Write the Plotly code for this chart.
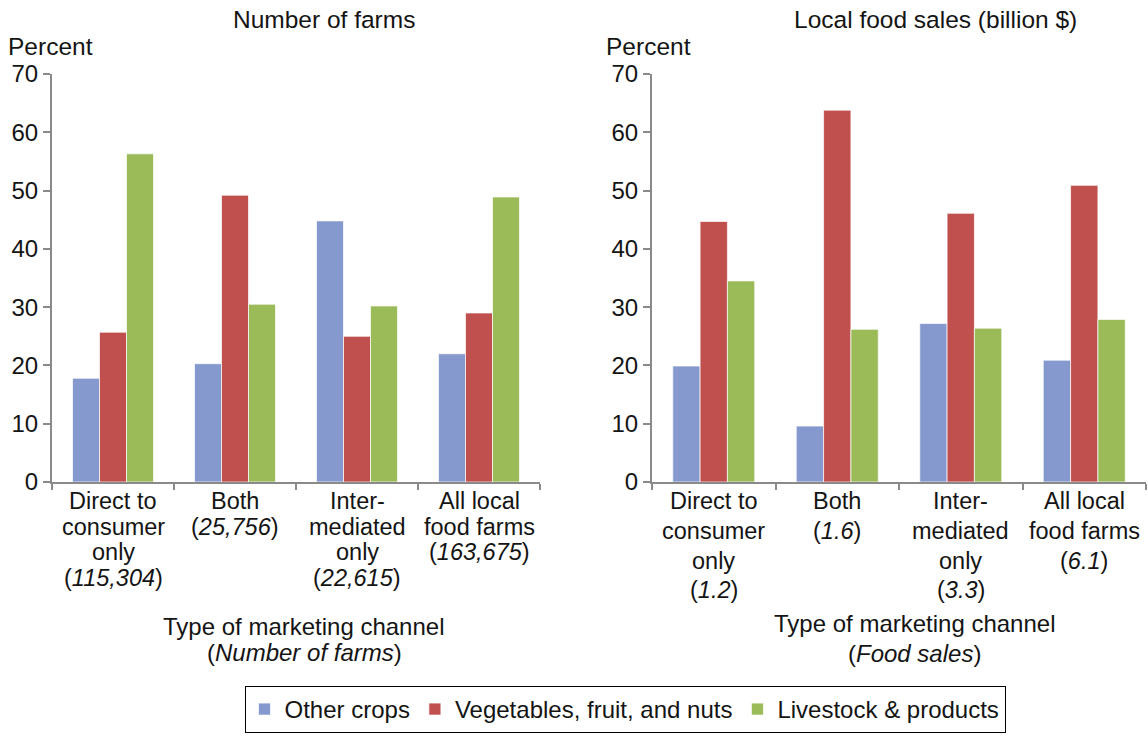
import plotly.graph_objects as go

# Marketing channel categories and the lines of their axis labels
categories = ["Direct to consumer only", "Both", "Intermediated only", "All local food farms"]
category_lines = [["Direct to", "consumer", "only"], ["Both"], ["Inter-", "mediated", "only"], ["All local", "food farms"]]
farm_counts = ["115,304", "25,756", "22,615", "163,675"]
sales_billion = ["1.2", "1.6", "3.3", "6.1"]

series_names = ["Other crops", "Vegetables, fruit, and nuts", "Livestock & products"]
series_colors = ["#8599CE", "#C0504D", "#9BBB59"]

# Percent of farms by commodity, per channel
farms_other = [17.8, 20.3, 44.8, 22.0]
farms_veg = [25.7, 49.2, 25.0, 29.0]
farms_livestock = [56.3, 30.5, 30.2, 48.9]

# Percent of local food sales by commodity, per channel
sales_other = [19.9, 9.6, 27.2, 20.9]
sales_veg = [44.7, 63.8, 46.1, 50.9]
sales_livestock = [34.5, 26.2, 26.4, 27.9]

W, H = 1148, 740
FONT = "Liberation Sans, Arial, Helvetica, sans-serif"
TXT = "#141414"
AXIS = "#8a8a8a"


def px_x(p):
    return p / W


def px_y(p):
    return 1 - p / H


fig = go.Figure()

panels = [
    ("x", "y", [farms_other, farms_veg, farms_livestock], True),
    ("x2", "y2", [sales_other, sales_veg, sales_livestock], False),
]
for xa, ya, values, show in panels:
    for name, color, vals in zip(series_names, series_colors, values):
        fig.add_trace(go.Bar(
            x=categories, y=vals, name=name, xaxis=xa, yaxis=ya,
            marker=dict(color=color, line=dict(color="rgba(255,255,255,0.7)", width=1)),
            showlegend=show, legendgroup=name,
        ))

xcommon = dict(
    type="category", range=[-0.5, 3.5], tickson="boundaries",
    ticks="outside", ticklen=6, tickwidth=2, tickcolor=AXIS,
    showline=True, linecolor=AXIS, linewidth=2, showgrid=False,
    showticklabels=False, automargin=False,
)
ycommon = dict(
    range=[0, 70], dtick=10, ticks="outside", ticklen=7, tickwidth=2,
    tickcolor=AXIS, showline=True, linecolor=AXIS, linewidth=2,
    showgrid=False, zeroline=False, automargin=False,
    tickfont=dict(family=FONT, size=24, color=TXT),
)

y_dom = [px_y(482), px_y(74)]
fig.update_layout(
    width=W, height=H,
    margin=dict(l=0, r=0, t=0, b=0),
    paper_bgcolor="white", plot_bgcolor="white",
    font=dict(family=FONT, size=24, color=TXT),
    barmode="group", bargap=0.336, bargroupgap=0,
    xaxis=dict(domain=[px_x(52), px_x(540)], anchor="y", **xcommon),
    yaxis=dict(domain=y_dom, anchor="x", **ycommon),
    xaxis2=dict(domain=[px_x(652), px_x(1146)], anchor="y2", **xcommon),
    yaxis2=dict(domain=y_dom, anchor="x2", **ycommon),
    legend=dict(
        orientation="h", x=px_x(625), xanchor="center", y=px_y(686), yanchor="top",
        bordercolor="#000000", borderwidth=1, bgcolor="white",
        font=dict(family=FONT, size=24, color=TXT), itemwidth=30,
    ),
    showlegend=True,
)


def note(text, x, y, size, xref="paper"):
    fig.add_annotation(
        text=text, x=x, y=px_y(y), xref=xref, yref="paper",
        xanchor="center", yanchor="middle", showarrow=False,
        font=dict(family=FONT, size=size, color=TXT),
    )


# Category labels: name lines followed by the italic total in parentheses
label_sets = [("x", farm_counts, 501, 25.7), ("x2", sales_billion, 501, 29.8)]
for xref, totals, top, step in label_sets:
    for cat, lines, total in zip(categories, category_lines, totals):
        for i, line in enumerate(lines + [f"(<i>{total}</i>)"]):
            note(line, cat, top + i * step, 23.5, xref=xref)

note("Number of farms", px_x(324), 20, 24.5)
note("Local food sales (billion $)", px_x(935), 20, 24.5)
note("Percent", px_x(50), 46, 24.5)
note("Percent", px_x(648), 46, 24.5)
note("Type of marketing channel", px_x(304), 626, 24)
note("(<i>Number of farms</i>)", px_x(304), 652, 24)
note("Type of marketing channel", px_x(915), 623, 24)
note("(<i>Food sales</i>)", px_x(915), 653, 24)

fig.write_html("out.html")
